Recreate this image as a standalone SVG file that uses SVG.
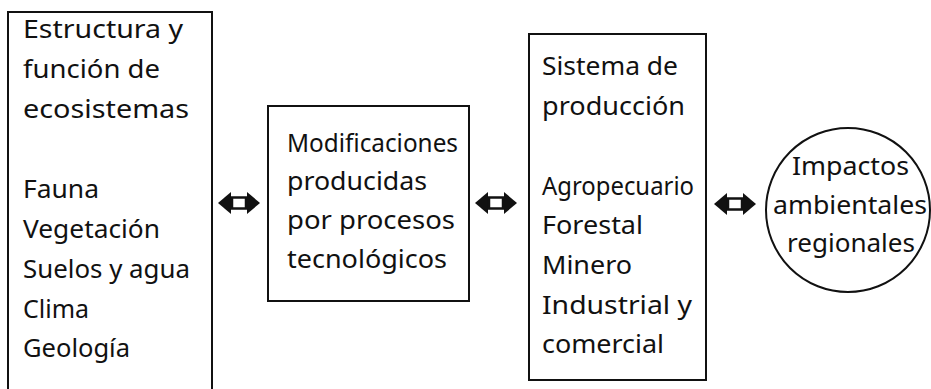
<svg xmlns="http://www.w3.org/2000/svg" width="931" height="389" viewBox="0 0 931 389">
<style>
.box{fill:#fff;stroke:#111;stroke-width:2}
.t{font-family:"Noto Sans","Open Sans",sans-serif;font-size:26px;fill:#111}
.ah{fill:#111}
.am{fill:#fff;stroke:#111;stroke-width:2.5}
</style>
<rect width="931" height="389" fill="#fff"/>
<defs>
<g id="dbl">
<polygon class="ah" points="-21,0 -8,-11 -8,11"/>
<rect class="am" x="-7" y="-5.5" width="14" height="11"/>
<polygon class="ah" points="21,0 8,-11 8,11"/>
</g>
</defs>
<g id="ecosistemas">
<path class="box" d="M8,400 V12 H212 V400"/>
<text class="t" x="23" y="38" textLength="160" lengthAdjust="spacingAndGlyphs">Estructura y</text>
<text class="t" x="23" y="78" textLength="137" lengthAdjust="spacingAndGlyphs">función de</text>
<text class="t" x="23" y="118" textLength="166" lengthAdjust="spacingAndGlyphs">ecosistemas</text>
<text class="t" x="23" y="198" textLength="76" lengthAdjust="spacingAndGlyphs">Fauna</text>
<text class="t" x="23" y="238" textLength="137" lengthAdjust="spacingAndGlyphs">Vegetación</text>
<text class="t" x="23" y="278" textLength="167" lengthAdjust="spacingAndGlyphs">Suelos y agua</text>
<text class="t" x="23" y="318" textLength="66" lengthAdjust="spacingAndGlyphs">Clima</text>
<text class="t" x="23" y="357" textLength="107" lengthAdjust="spacingAndGlyphs">Geología</text>
</g>
<g id="modificaciones">
<rect class="box" x="268" y="106" width="201" height="195"/>
<text class="t" x="287" y="152" textLength="171" lengthAdjust="spacingAndGlyphs">Modificaciones</text>
<text class="t" x="287" y="190" textLength="140" lengthAdjust="spacingAndGlyphs">producidas</text>
<text class="t" x="287" y="229" textLength="168" lengthAdjust="spacingAndGlyphs">por procesos</text>
<text class="t" x="287" y="268" textLength="160" lengthAdjust="spacingAndGlyphs">tecnológicos</text>
</g>
<g id="produccion">
<rect class="box" x="529" y="34" width="177" height="346"/>
<text class="t" x="542" y="75" textLength="136" lengthAdjust="spacingAndGlyphs">Sistema de</text>
<text class="t" x="542" y="115" textLength="143" lengthAdjust="spacingAndGlyphs">producción</text>
<text class="t" x="542" y="195" textLength="152" lengthAdjust="spacingAndGlyphs">Agropecuario</text>
<text class="t" x="542" y="234" textLength="101" lengthAdjust="spacingAndGlyphs">Forestal</text>
<text class="t" x="542" y="274" textLength="90" lengthAdjust="spacingAndGlyphs">Minero</text>
<text class="t" x="542" y="314" textLength="150" lengthAdjust="spacingAndGlyphs">Industrial y</text>
<text class="t" x="542" y="353" textLength="122" lengthAdjust="spacingAndGlyphs">comercial</text>
</g>
<g id="impactos">
<circle class="box" cx="848" cy="210" r="82"/>
<text class="t" x="792" y="175" textLength="117" lengthAdjust="spacingAndGlyphs">Impactos</text>
<text class="t" x="773" y="214" textLength="154" lengthAdjust="spacingAndGlyphs">ambientales</text>
<text class="t" x="787" y="252" textLength="128" lengthAdjust="spacingAndGlyphs">regionales</text>
</g>
<g id="connectors">
<use href="#dbl" x="239" y="203"/>
<use href="#dbl" x="496" y="203"/>
<use href="#dbl" x="735" y="204"/>
</g>
</svg>
